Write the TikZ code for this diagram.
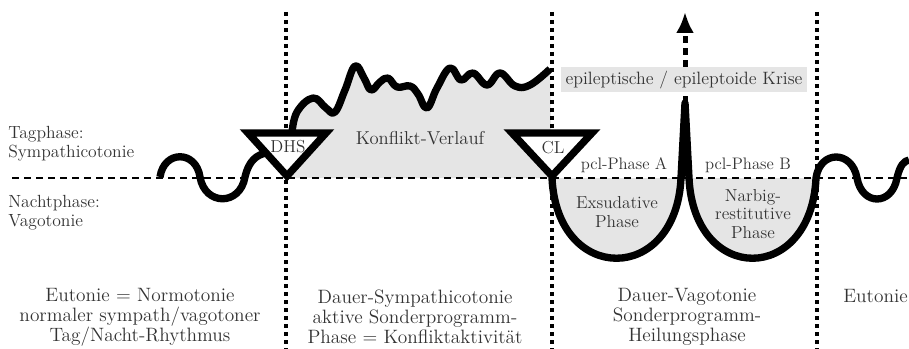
\documentclass[tikz,border=0pt]{standalone}
\usepackage{fontspec}
\usetikzlibrary{arrows.meta}

\definecolor{relleno}{gray}{0.9}
\definecolor{texto}{gray}{0.2}
\newcommand{\schriftklein}{\fontsize{12.5}{13.5}\selectfont}
\newcommand{\schriftlinks}{\fontsize{13.2}{14}\selectfont}
\newcommand{\schriftmittel}{\fontsize{13}{14}\selectfont}
\newcommand{\schriftgross}{\fontsize{14.5}{15}\selectfont}

\begin{document}
\begin{tikzpicture}[x=0.75pt,y=-0.75pt,
    kurve/.style={line width=5.5pt, line join=round},
    dreieck/.style={line width=5.5pt, line join=miter, fill=white},
    grundlinie/.style={line width=2.2pt, dash pattern=on 5.25pt off 3.75pt},
    trennlinie/.style={line width=2.6pt, dash pattern=on 3pt off 3pt},
    pfeil/.style={line width=3.75pt, dash pattern=on 5.25pt off 3.75pt, -{Latex[length=15.75pt,width=13.5pt]}},
    beschriftung/.style={text=texto, inner sep=0pt}]
    \useasboundingbox (0,0) rectangle (909,349);

    % Flächen
    \fill[relleno] (286,178) -- (292,133) -- plot[smooth, tension=0.7] coordinates {(292,133) (297,112) (313,98) (326,108) (335,112) (345,90) (355,66) (364,78) (371,90) (380,82) (388,78) (397,87) (410,86) (418,94) (427,108) (437,88) (450,68) (461,80) (473,73) (487,85) (500,73) (515,86) (530,85) (550,69)} -- (552,178) -- cycle;
    \fill[relleno] (552,178) .. controls (557,285) and (676,285) .. (681,178) -- cycle;
    \fill[relleno] (689,178) .. controls (694,285) and (811,285) .. (816,178) -- cycle;

    % Linien
    \draw[grundlinie] (12,178) -- (909,178);
    \draw[trennlinie] (286,12) -- (286,349);
    \draw[trennlinie] (552,12) -- (552,349);
    \draw[trennlinie] (817,12) -- (817,349);

    % Krise
    \coordinate (spitze) at (685,103);
    \coordinate (oben) at (685,12);
    \draw[pfeil] (spitze) -- (oben);

    % Verlauf
    \draw[kurve] (160,177) .. controls (164,150) and (196,150) .. (200,177)
        .. controls (205,206) and (240,206) .. (245,177)
        .. controls (249,160) and (257,155) .. (266,153);
    \draw[kurve] plot[smooth, tension=0.7] coordinates {(292,133) (297,112) (313,98) (326,108) (335,112) (345,90) (355,66) (364,78) (371,90) (380,82) (388,78) (397,87) (410,86) (418,94) (427,108) (437,88) (450,68) (461,80) (473,73) (487,85) (500,73) (515,86) (530,85) (550,69)};
    \draw[kurve] (552,178) .. controls (557,285) and (676,285) .. (681,178) -- (spitze)
        -- (689,178) .. controls (694,285) and (811,285) .. (816,178)
        .. controls (820,150) and (852,150) .. (857,178)
        .. controls (862,206) and (892,206) .. (897,178)
        .. controls (900,165) and (904,161) .. (909,160);

    % Dreiecke
    \draw[dreieck] (248,133) -- (326,133) -- (287,176) -- cycle;
    \draw[dreieck] (512,133) -- (592,133) -- (552,176) -- cycle;

    % Texte
    \node[beschriftung, font=\schriftlinks, align=left, anchor=west] (tagphase) at (8,144) {Tagphase:\\Sympathicotonie};
    \node[beschriftung, font=\schriftlinks, align=left, anchor=west] (nachtphase) at (8,213) {Nachtphase:\\Vagotonie};
    \node[beschriftung, font=\fontsize{14}{15}\selectfont, anchor=base] (konflikt) at (420,145) {Konflikt-Verlauf};
    \node[beschriftung, font=\schriftmittel, anchor=base] (dhs) at (288,152) {DHS};
    \node[beschriftung, font=\schriftmittel, anchor=base] (cl) at (553,153) {CL};
    \node[beschriftung, font=\schriftklein, anchor=base] (pcla) at (624,170) {pcl-Phase A};
    \node[beschriftung, font=\schriftklein, anchor=base] (pclb) at (748,169) {pcl-Phase B};
    \node[beschriftung, font=\fontsize{13.4}{14}\selectfont, fill=relleno, minimum width=185pt, minimum height=18.75pt] (krise) at (684,80) {epileptische / epileptoide Krise};
    \node[beschriftung, font=\schriftmittel, align=center] (exsudativ) at (617,212) {Exsudative\\Phase};
    \node[beschriftung, font=\schriftmittel, align=center] (narbig) at (753,214) {Narbig-\\restitutive\\Phase};
    \node[beschriftung, font=\schriftgross, align=center] (eutonie) at (140,317) {Eutonie = Normotonie\\normaler sympath/vagotoner\\Tag/Nacht-Rhythmus};
    \node[beschriftung, font=\schriftgross, align=center] (dauersympath) at (415,317) {Dauer-Sympathicotonie\\aktive Sonderprogramm-\\Phase = Konfliktaktivität};
    \node[beschriftung, font=\schriftgross, align=center] (dauervago) at (687,317) {Dauer-Vagotonie\\Sonderprogramm-\\Heilungsphase};
    \node[beschriftung, font=\schriftgross, anchor=base west] (eutonierechts) at (843,302) {Eutonie};
\end{tikzpicture}
\end{document}
